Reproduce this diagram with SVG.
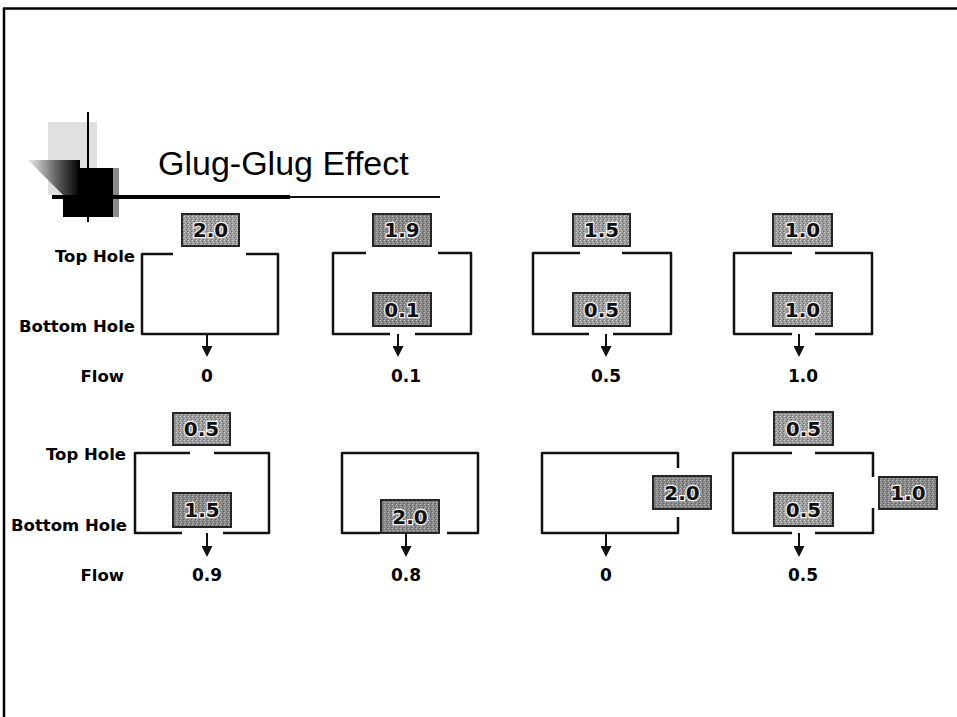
<svg xmlns="http://www.w3.org/2000/svg" width="957" height="717" viewBox="0 0 957 717">
<style>
.frame{stroke:#000;stroke-width:2.5;fill:none}
.box{fill:none;stroke:#111;stroke-width:2.5;stroke-linejoin:round;stroke-linecap:butt}
.lbl{fill:url(#tex);stroke:#262626;stroke-width:2}
.lbl.dk{fill:url(#texdk)}
.lt{font-family:"DejaVu Sans",Verdana,sans-serif;font-weight:bold;font-size:20px;fill:#111;stroke:#f2f2f2;stroke-width:2.5;paint-order:stroke;text-anchor:middle}
.side{font-family:"DejaVu Sans",Verdana,sans-serif;font-weight:bold;font-size:16.5px;fill:#000;text-anchor:end}
.val{font-family:"DejaVu Sans",Verdana,sans-serif;font-weight:bold;font-size:17px;fill:#000;text-anchor:middle}
.arr{stroke:#111;stroke-width:2;marker-end:url(#ah)}
</style>
<defs>
<marker id="ah" viewBox="0 0 10 10" refX="0" refY="5" markerWidth="11" markerHeight="11" markerUnits="userSpaceOnUse" orient="auto">
<path d="M0,0 L10,5 L0,10 z" fill="#111"/>
</marker>
<pattern id="tex" width="4" height="4" patternUnits="userSpaceOnUse">
<rect width="4" height="4" fill="#9c9c9c"/>
<rect x="0" y="0" width="1" height="1" fill="#d0d0d0"/>
<rect x="2" y="1" width="1" height="1" fill="#6a6a6a"/>
<rect x="1" y="2" width="1" height="1" fill="#c4c4c4"/>
<rect x="3" y="3" width="1" height="1" fill="#707070"/>
</pattern>
<pattern id="texdk" width="4" height="4" patternUnits="userSpaceOnUse">
<rect width="4" height="4" fill="#888"/>
<rect x="0" y="0" width="1" height="1" fill="#bdbdbd"/>
<rect x="2" y="1" width="1" height="1" fill="#5a5a5a"/>
<rect x="1" y="2" width="1" height="1" fill="#b0b0b0"/>
<rect x="3" y="3" width="1" height="1" fill="#606060"/>
</pattern>
<linearGradient id="fade" x1="0" x2="1" y1="0" y2="0">
<stop offset="0" stop-color="#333"/>
<stop offset="1" stop-color="#ccc"/>
</linearGradient>
<linearGradient id="wedge" x1="0" x2="1" y1="0" y2="0">
<stop offset="0" stop-color="#eee"/>
<stop offset="0.6" stop-color="#555"/>
<stop offset="1" stop-color="#000"/>
</linearGradient>
</defs>
<rect width="957" height="717" fill="#fff"/>
<g id="frame">
<line class="frame" x1="3" y1="8.5" x2="957" y2="8.5"/>
<line class="frame" x1="4" y1="8" x2="4" y2="717"/>
</g>
<g id="logo">
<rect x="48" y="122" width="49" height="73" fill="#e0e0e0"/>
<polygon points="28,160 80,160 80,196 64,196" fill="url(#wedge)"/>
<rect x="78" y="168" width="35" height="29" fill="#000"/>
<rect x="63" y="199" width="50" height="18" fill="#000"/>
<rect x="113" y="168" width="6" height="49" fill="#8a8a8a"/>
<line x1="88" y1="112" x2="88" y2="222" stroke="#000" stroke-width="2"/>
<rect x="52" y="195" width="238" height="4" fill="#000"/>
<line x1="290" y1="197" x2="440" y2="197" stroke="#111" stroke-width="2"/>
<line x1="440" y1="197" x2="615" y2="197" stroke="url(#fade)" stroke-width="2" stroke-dasharray="3 1"/>
</g>
<g id="title">
<text x="158" y="175" font-family="'Liberation Sans',Arial,sans-serif" font-size="34" fill="#000">Glug-Glug Effect</text>
</g>
<g id="row-labels">
<text class="side" x="135" y="262">Top Hole</text>
<text class="side" x="135" y="332">Bottom Hole</text>
<text class="side" x="124" y="382">Flow</text>
<text class="side" x="126" y="460">Top Hole</text>
<text class="side" x="127" y="531">Bottom Hole</text>
<text class="side" x="124" y="581">Flow</text>
</g>
<g id="case1">
<path class="box" d="M173,254 H142 V334 H278 V254 H246"/>
<rect class="lbl" x="182" y="214" width="57" height="32"/><text class="lt" x="210.5" y="237">2.0</text>
<text class="val" x="207" y="382">0</text>
</g>
<g id="case2">
<path class="box" d="M366,253 H333 V334 H390 M415,334 H471 V253 H438"/>
<rect class="lbl dk" x="373" y="214" width="58" height="32"/><text class="lt" x="402" y="237">1.9</text>
<rect class="lbl dk" x="373" y="293" width="58" height="33"/><text class="lt" x="402" y="316.5">0.1</text>
<text class="val" x="406" y="382">0.1</text>
</g>
<g id="case3">
<path class="box" d="M580,253 H533 V334 H589 M613,334 H671 V253 H622"/>
<rect class="lbl" x="573" y="214" width="57" height="32"/><text class="lt" x="601.5" y="237">1.5</text>
<rect class="lbl" x="573" y="293" width="57" height="33"/><text class="lt" x="601.5" y="316.5">0.5</text>
<text class="val" x="606" y="382">0.5</text>
</g>
<g id="case4">
<path class="box" d="M792,253 H734 V334 H792 M815,334 H872 V253 H815"/>
<rect class="lbl" x="773" y="214" width="59" height="32"/><text class="lt" x="802.5" y="237">1.0</text>
<rect class="lbl" x="773" y="293" width="59" height="33"/><text class="lt" x="802.5" y="316.5">1.0</text>
<text class="val" x="803" y="382">1.0</text>
</g>
<g id="case5">
<path class="box" d="M190,453 H135 V533 H182 M223,533 H269 V453 H214"/>
<rect class="lbl" x="173" y="413" width="57" height="32"/><text class="lt" x="201.5" y="436">0.5</text>
<rect class="lbl dk" x="173" y="493" width="58" height="34"/><text class="lt" x="202" y="517">1.5</text>
<text class="val" x="207" y="581">0.9</text>
</g>
<g id="case6">
<path class="box" d="M380,533 H342 V453 H478 V533 H447"/>
<rect class="lbl dk" x="381" y="500" width="58" height="33"/><text class="lt" x="410" y="523.5">2.0</text>
<text class="val" x="406" y="581">0.8</text>
</g>
<g id="case7">
<path class="box" d="M678,468 V453 H542 V533 H678 V517"/>
<rect class="lbl dk" x="653" y="476" width="58" height="33"/><text class="lt" x="682" y="499.5">2.0</text>
<text class="val" x="606" y="581">0</text>
</g>
<g id="case8">
<path class="box" d="M792,453 H733 V533 H792 M815,533 H873 V508 M873,477 V453 H815"/>
<rect class="lbl" x="774" y="412" width="59" height="33"/><text class="lt" x="803.5" y="435.5">0.5</text>
<rect class="lbl" x="774" y="493" width="59" height="33"/><text class="lt" x="803.5" y="516.5">0.5</text>
<rect class="lbl dk" x="879" y="477" width="58" height="32"/><text class="lt" x="908" y="500">1.0</text>
<text class="val" x="803" y="581">0.5</text>
</g>
<g id="connectors">
<line class="arr" x1="207" y1="334" x2="207" y2="346"/>
<line class="arr" x1="398" y1="334" x2="398" y2="346"/>
<line class="arr" x1="606" y1="334" x2="606" y2="346"/>
<line class="arr" x1="799" y1="334" x2="799" y2="346"/>
<line class="arr" x1="207" y1="533" x2="207" y2="546"/>
<line class="arr" x1="406" y1="533" x2="406" y2="546"/>
<line class="arr" x1="606" y1="533" x2="606" y2="546"/>
<line class="arr" x1="799" y1="533" x2="799" y2="546"/>
</g>
</svg>
